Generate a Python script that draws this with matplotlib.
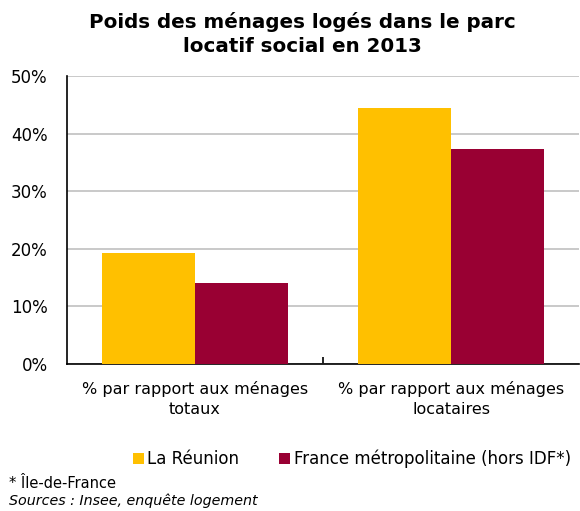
import numpy as np
import matplotlib.pyplot as plt
from matplotlib.ticker import PercentFormatter

categories = ["% par rapport aux ménages\ntotaux", "% par rapport aux ménages\nlocataires"]
series_names = ["La Réunion", "France métropolitaine (hors IDF*)"]
reunion = [19.2, 44.4]
france = [14.1, 37.4]
yticks = [0, 10, 20, 30, 40, 50]

plt.rcParams['font.family'] = ['DejaVu Sans']

fig = plt.figure(figsize=(5.8, 5.11), dpi=100)
ax = fig.add_axes([67 / 580, 147 / 511, 512 / 580, 288 / 511])

x = np.arange(len(categories))
w = 0.365
ax.bar(x - w / 2, reunion, w, color="#FFC000", label=series_names[0], zorder=3)
ax.bar(x + w / 2, france, w, color="#990033", label=series_names[1], zorder=3)

ax.set_xlim(-0.5, 1.5)
ax.set_ylim(0, 50)
ax.set_yticks(yticks)
ax.yaxis.set_major_formatter(PercentFormatter(decimals=0))
ax.grid(axis="y", color="#c0c0c0", linewidth=1.2, zorder=0)
ax.tick_params(axis="y", length=0, labelsize=12, pad=14)

ax.set_xticks(x)
ax.set_xticklabels(categories, fontsize=11.5, linespacing=1.45)
ax.tick_params(axis="x", which="major", length=0, pad=12)
ax.set_xticks([0.5], minor=True)
ax.tick_params(axis="x", which="minor", length=5, direction="in", width=1.2)

for s in ["top", "right"]:
    ax.spines[s].set_visible(False)
for s in ["left", "bottom"]:
    ax.spines[s].set_linewidth(1.2)
    ax.spines[s].set_color("black")

fig.text(0.522, 1 - 12 / 511, "Poids des ménages logés dans le parc\nlocatif social en 2013",
         ha="center", va="top", fontsize=14.3, fontweight="bold", linespacing=1.3)

ax.legend(loc="center", bbox_to_anchor=(352 / 580, 1 - 459 / 511), bbox_transform=fig.transFigure,
          ncol=2, frameon=False, fontsize=12, handlelength=0.65, handleheight=0.65,
          handletextpad=0.2, columnspacing=2.4)

fig.text(9 / 580, 1 - 483 / 511, "* Île-de-France", fontsize=10.5, va="center")
fig.text(9 / 580, 1 - 501 / 511, "Sources : Insee, enquête logement", fontsize=10.3,
         va="center", style="italic")

fig.savefig("out.png", dpi=100)
